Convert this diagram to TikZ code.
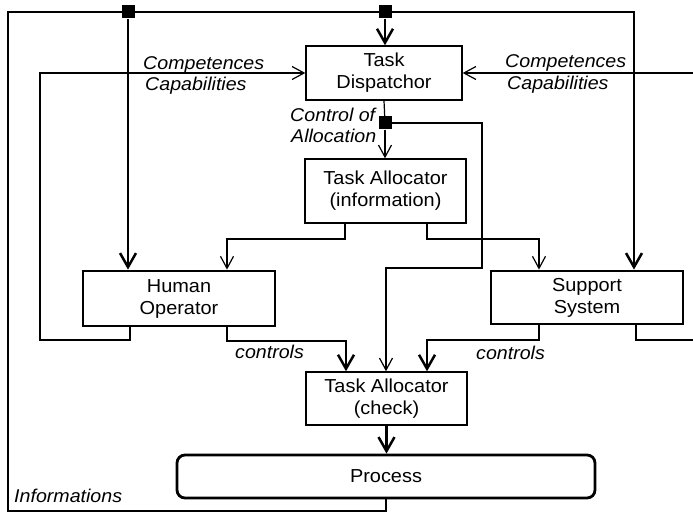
\documentclass[tikz,border=0pt]{standalone}
\usepackage{fontspec}
\setmainfont{Liberation Sans}[FakeStretch=1.06]
\usetikzlibrary{arrows.meta}
\begin{document}
\begin{tikzpicture}[x=1pt,y=-1pt,
  font=\fontsize{18.8}{22}\selectfont,
  thinbox/.style={draw, line width=1.4pt, inner sep=0pt, align=center},
  thickbox/.style={draw, line width=2.8pt, inner sep=0pt, align=center},
  thinline/.style={line width=1.2pt},
  thickline/.style={line width=2.5pt},
  thinarrow/.style={thinline, -{Straight Barb[length=12pt,width=13pt]}},
  thickarrow/.style={thickline, -{Straight Barb[length=14pt,width=16pt]}},
  junction/.style={fill, inner sep=0pt, minimum size=13pt},
  lbl/.style={font=\fontsize{18.5}{22}\selectfont\itshape, inner sep=0pt, anchor=base west}
]
\useasboundingbox (0,0) rectangle (693,513);

% boxes
\node[thinbox, minimum width=156pt, minimum height=54pt] (disp) at (384,73) {Task\\Dispatchor};
\node[thinbox, minimum width=161pt, minimum height=64pt] (alloc) at (385.5,191) {Task Allocator\\(information)};
\node[thickbox, minimum width=192pt, minimum height=55pt] (human) at (179,298.5) {Human\\Operator};
\node[thickbox, minimum width=192pt, minimum height=53pt] (support) at (587,297.5) {Support\\System};
\node[thinbox, minimum width=161pt, minimum height=53pt] (check) at (386.5,398.5) {Task Allocator\\(check)};
\node[thickbox, rounded corners=8pt, minimum width=418pt, minimum height=43pt] (process) at (386,476.5) {Process};

% junctions
\node[junction] (sq1) at (128,12) {};
\node[junction] (sq2) at (385,12) {};
\node[junction] (sq3) at (385,123) {};

% labels
\node[lbl] (compL) at (143,69.5) {Competences};
\node[lbl] (capL) at (145,90.5) {Capabilities};
\node[lbl] (compR) at (505,68) {Competences};
\node[lbl] (capR) at (507,90) {Capabilities};
\node[lbl] (ctrl1) at (290,122) {Control of};
\node[lbl] (ctrl2) at (291,143) {Allocation};
\node[lbl] (contL) at (235,358) {controls};
\node[lbl] (contR) at (476,359) {controls};
\node[lbl] (info) at (14,502) {Informations};

% outer information loop
\draw[thickarrow] (process.south) -- (process.south |- 0,511) -- (8,511) -- (8,12) -- (634,12) -- (634,0 |- support.north);
\draw[thickarrow] (sq1) -- (sq1 |- human.north);
\draw[thickarrow] (sq2) -- (sq2 |- disp.north);

% control of allocation
\draw[thinline] (disp.south) -- (sq3);
\draw[thinarrow] (sq3) -- (sq3 |- alloc.north);
\draw[thinarrow] (sq3.east) -- (482,0 |- sq3.east) -- (482,268) -- (386,268) -- (386,0 |- check.north);

% allocator to operators
\draw[thinarrow] (345,0 |- alloc.south) -- (345,239) -- (227,239) -- (227,0 |- human.north);
\draw[thinarrow] (427,0 |- alloc.south) -- (427,239) -- (539,239) -- (539,0 |- support.north);

% controls
\draw[thickarrow] (227,0 |- human.south) -- (227,341) -- (346,341) -- (346,0 |- check.north);
\draw[thickarrow] (539,0 |- support.south) -- (539,340) -- (427,340) -- (427,0 |- check.north);
\draw[thickarrow] (check.south) -- (check.south |- process.north);

% competences / capabilities
\draw[thinarrow] (130,0 |- human.south) -- (130,340) -- (40,340) -- (40,0 |- disp.west) -- (disp.west);
\draw[thinarrow] (693,0 |- disp.east) -- (disp.east);
\draw[thinline] (636,0 |- support.south) -- (636,340) -- (693,340);
\end{tikzpicture}
\end{document}
